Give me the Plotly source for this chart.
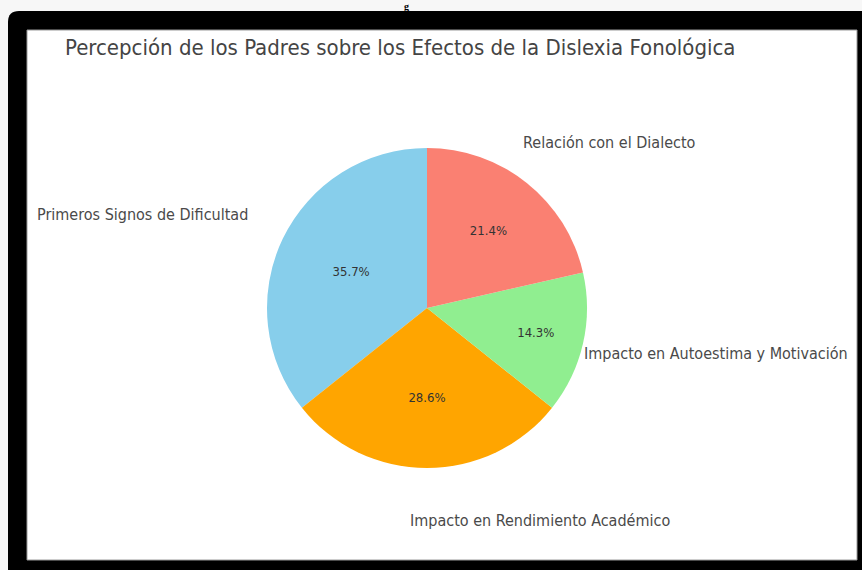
import plotly.graph_objects as go

# ---- data ----
categories = [
    "Primeros Signos de Dificultad",
    "Impacto en Rendimiento Académico",
    "Impacto en Autoestima y Motivación",
    "Relación con el Dialecto",
]
values = [5, 4, 2, 3]
colors = ["#87CEEB", "#FFA500", "#90EE90", "#FA8072"]
title_text = "Percepción de los Padres sobre los Efectos de la Dislexia Fonológica"

# ---- layout helpers (pixel -> paper) ----
W, H = 862, 570
def px(x):
    return x / W
def py(y):
    return 1 - y / H

FONT = "DejaVu Sans Condensed, DejaVu Sans"

# pie placement (circle centre and diameter in px)
cx, cy, D = 427, 308, 320

# first slice starts at 12 o'clock and runs counter-clockwise (matplotlib startangle=90)
start_rot = -values[0] / sum(values) * 360

fig = go.Figure()
fig.add_trace(go.Pie(
    labels=categories,
    values=values,
    sort=False,
    direction="counterclockwise",
    rotation=start_rot,
    marker=dict(colors=colors, line=dict(width=0)),
    textinfo="percent",
    texttemplate="%{percent:.1%}",
    textposition="inside",
    insidetextorientation="horizontal",
    insidetextfont=dict(family=FONT, size=13, color="#333333"),
    showlegend=False,
    hoverinfo="label+percent",
    domain=dict(x=[px(cx - D / 2), px(cx + D / 2)], y=[py(cy + D / 2), py(cy - D / 2)]),
))

# label anchor positions (px) and alignments, same order as categories
label_pos = [(250, 214, "right"), (408, 520, "left"), (582, 353, "left"), (521, 142, "left")]
annotations = []
for name, (lx, ly, al) in zip(categories, label_pos):
    annotations.append(dict(
        x=px(lx), y=py(ly), xref="paper", yref="paper",
        text=name, showarrow=False, xanchor=al, yanchor="middle",
        font=dict(family=FONT, size=16, color="#4a4a4a"),
    ))

# title
annotations.append(dict(
    x=px(400), y=py(47), xref="paper", yref="paper", text=title_text,
    showarrow=False, xanchor="center", yanchor="middle",
    font=dict(family=FONT, size=22, color="#444444"),
))
# small caption glyph above the frame
annotations.append(dict(
    x=px(406), y=py(0), xref="paper", yref="paper", text="<b>g</b>",
    showarrow=False, xanchor="center", yanchor="top", borderpad=0,
    font=dict(family="Liberation Serif", size=10, color="#000000"),
))

shapes = [
    # black frame with rounded top-left corner
    dict(type="path", xref="paper", yref="paper",
         path=f"M {px(8)},{py(22)} Q {px(8)},{py(11)} {px(19)},{py(11)} L {px(862)},{py(11)} "
              f"L {px(862)},{py(570)} L {px(8)},{py(570)} Z",
         fillcolor="#000000", line=dict(width=0), layer="below"),
    # inner white panel
    dict(type="rect", xref="paper", yref="paper",
         x0=px(27), x1=px(857), y0=py(560), y1=py(30),
         fillcolor="#ffffff", line=dict(color="#9a9a9a", width=1), layer="below"),
]

fig.update_layout(
    width=W, height=H,
    margin=dict(l=0, r=0, t=0, b=0),
    paper_bgcolor="#f7f7f7",
    plot_bgcolor="rgba(0,0,0,0)",
    annotations=annotations,
    shapes=shapes,
)

fig.write_html("out.html", config={"displayModeBar": False},
               post_script="document.body.style.margin='0';")
